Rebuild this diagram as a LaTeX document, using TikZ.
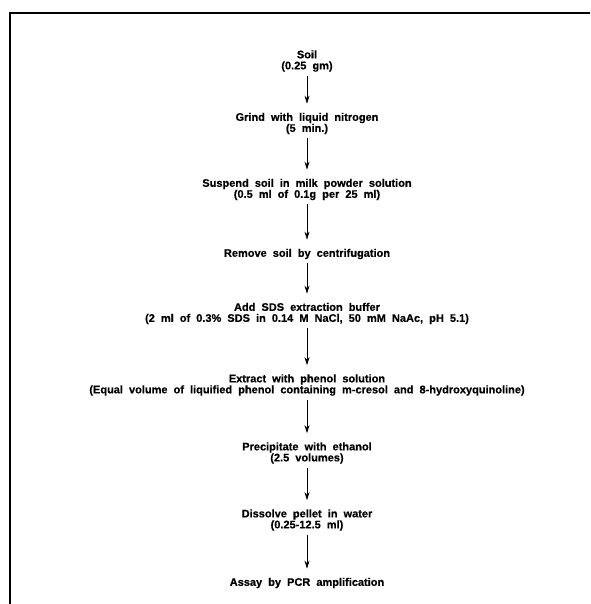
\documentclass[tikz,border=0pt]{standalone}
\usepackage{fontspec}
\setmainfont{Liberation Sans}[BoldFeatures={FakeBold=0.5}]
\usetikzlibrary{arrows.meta}
\newcommand{\stepfont}{\bfseries\fontsize{11}{11}\selectfont\spaceskip=0.55em plus 0.1em minus 0.05em\relax}
\begin{document}
\begin{tikzpicture}[x=1pt,y=-1pt,
  stepnode/.style={font=\stepfont, align=center, inner sep=0pt},
  arr/.style={-{Stealth[length=8pt,width=5pt]}, line width=0.8pt, shorten <=4pt, shorten >=9pt},
  frame/.style={line width=1.8pt}]
\useasboundingbox (0,0) rectangle (590,604);
\draw[frame] (10,604) -- (10,13) -- (590,13);
\node[stepnode] (s1) at (307,61) {Soil\\(0.25 gm)};
\node[stepnode] (s2) at (307,123.5) {Grind with liquid nitrogen\\(5 min.)};
\node[stepnode] (s3) at (307,189.5) {Suspend soil in milk powder solution\\(0.5 ml of 0.1g per 25 ml)};
\node[stepnode] (s4) at (307,254) {Remove soil by centrifugation};
\node[stepnode] (s5) at (307,313.5) {Add SDS extraction buffer\\(2 ml of 0.3\% SDS in 0.14 M NaCl, 50 mM NaAc, pH 5.1)};
\node[stepnode] (s6) at (307,385) {Extract with phenol solution\\(Equal volume of liquified phenol containing m-cresol and 8-hydroxyquinoline)};
\node[stepnode] (s7) at (307,453) {Precipitate with ethanol\\(2.5 volumes)};
\node[stepnode] (s8) at (307,520) {Dissolve pellet in water\\(0.25-12.5 ml)};
\node[stepnode] (s9) at (307,583) {Assay by PCR amplification};
\draw[arr] (s1) -- (s2);
\draw[arr] (s2) -- (s3);
\draw[arr] (s3) -- (s4);
\draw[arr] (s4) -- (s5);
\draw[arr] (s5) -- (s6);
\draw[arr] (s6) -- (s7);
\draw[arr] (s7) -- (s8);
\draw[arr] (s8) -- (s9);
\end{tikzpicture}
\end{document}
